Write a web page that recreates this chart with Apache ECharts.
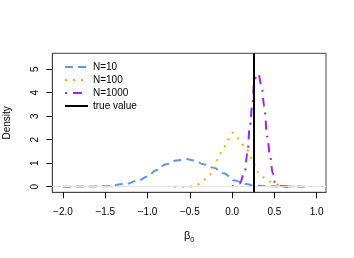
<!DOCTYPE html>
<html><head><meta charset="utf-8">
<script src="https://cdn.jsdelivr.net/npm/echarts@6/dist/echarts.min.js"></script>
<style>html,body{margin:0;padding:0;background:#fff}#c{width:354px;height:258px}</style>
</head><body><div id="c"></div>
<script>
const xTicks = [-2.0, -1.5, -1.0, -0.5, 0.0, 0.5, 1.0];
const yTicks = [0, 1, 2, 3, 4, 5];
const trueValue = 0.25;
const n10X = [-2.0,-1.75,-1.5,-1.25,-1.1,-1.0,-0.9,-0.78,-0.66,-0.55,-0.44,-0.34,-0.22,-0.1,0.03,0.17,0.25,0.4,0.6,0.9];
const n10Y = [0,0.003,0.02,0.12,0.28,0.43,0.7,0.95,1.11,1.18,1.11,0.95,0.81,0.57,0.26,0.11,0.05,0.02,0.005,0];
const n100X = [-0.69,-0.59,-0.5,-0.4,-0.33,-0.26,-0.21,-0.17,-0.13,-0.08,-0.04,0.01,0.07,0.14,0.18,0.23,0.28,0.31,0.39,0.48,0.57,0.67,0.76];
const n100Y = [0,0,0.01,0.1,0.3,0.52,0.82,1.15,1.45,1.73,2.03,2.3,2.06,1.76,1.56,1.21,0.88,0.61,0.37,0.17,0.06,0.01,0];
const n1000X = [0.0,0.09,0.15,0.18,0.21,0.24,0.26,0.29,0.31,0.35,0.38,0.415,0.45,0.48,0.51,0.565,0.66];
const n1000Y = [0,0.14,0.64,1.42,2.56,3.55,4.4,4.76,4.8,4.26,3.41,2.13,1.28,0.57,0.14,0.03,0];
const legendNames = ['N=10', 'N=100', 'N=1000', 'true value'];

const zip = (xs, ys) => xs.map((x, i) => [x, ys[i]]);
const FONT = 'Liberation Sans, Arial, Helvetica, sans-serif';
const chart = echarts.init(document.getElementById('c'), null, {renderer: 'canvas'});
chart.setOption({
  animation: false,
  textStyle: {fontFamily: FONT, color: '#000'},
  grid: {left: 52.3, top: 53.3, right: 28, bottom: 65.7, show: true, borderColor: '#444', borderWidth: 1,
         containLabel: false, outerBoundsMode: 'none'},
  legend: {
    data: legendNames, left: 59, top: 57, orient: 'vertical',
    itemWidth: 23, itemHeight: 12, itemGap: 3,
    itemStyle: {opacity: 0},
    textStyle: {fontSize: 10, fontFamily: FONT, color: '#000', padding: [0,0,0,0]}
  },
  xAxis: {
    type: 'value', min: -2.126, max: 1.11,
    name: '{b|β}{s|0}', nameLocation: 'middle', nameGap: 36,
    nameTextStyle: {rich: {b: {fontSize: 11, fontFamily: FONT}, s: {fontSize: 7, fontFamily: FONT, padding: [8,0,0,0]}}},
    axisLine: {show: true, onZero: false, lineStyle: {color: '#444', width: 1}}, splitLine: {show: false},
    axisTick: {show: true, length: 6, lineStyle: {color: '#000'}, customValues: xTicks},
    axisLabel: {fontSize: 10, color: '#000', margin: 15, customValues: xTicks,
      formatter: v => (v < 0 ? '\u2212' : '') + Math.abs(v).toFixed(1)}
  },
  yAxis: {
    type: 'value', min: -0.24, max: 5.68, position: 'left',
    name: 'Density', nameLocation: 'middle', nameGap: 40, nameRotate: 90,
    nameTextStyle: {fontSize: 10, color: '#000'},
    axisLine: {show: true, onZero: false, lineStyle: {color: '#444', width: 1}}, splitLine: {show: false},
    axisTick: {show: true, inside: false, length: 6, lineStyle: {color: '#000', width: 1}, customValues: yTicks},
    axisLabel: {fontSize: 10, color: '#000', margin: 12, rotate: 90, customValues: yTicks}
  },
  series: [
    {name: 'base', type: 'line', data: [], silent: true, z: 1,
     markLine: {silent: true, symbol: 'none', label: {show: false},
       lineStyle: {color: '#e3e3e3', width: 1, type: 'solid'}, data: [{yAxis: 0}]}},
    {name: 'N=10', type: 'line', data: zip(n10X, n10Y), symbol: 'none', smooth: 0.4, smoothMonotone: 'x',
     itemStyle: {color: '#6495ED'}, lineStyle: {color: '#6495ED', width: 2, type: [8, 5]}},
    {name: 'N=100', type: 'line', data: zip(n100X, n100Y), symbol: 'none', smooth: 0.4, smoothMonotone: 'x',
     itemStyle: {color: '#FFA500'}, lineStyle: {color: '#FFA500', width: 2, type: [2, 6]}},
    {name: 'N=1000', type: 'line', data: zip(n1000X, n1000Y), symbol: 'none', smooth: 0.4, smoothMonotone: 'x',
     itemStyle: {color: '#A020F0'}, lineStyle: {color: '#A020F0', width: 2, type: [2, 6, 9, 6]}},
    {name: 'true value', type: 'line', data: [], symbol: 'none',
     itemStyle: {color: '#000'}, lineStyle: {color: '#000', width: 2},
     markLine: {silent: true, symbol: 'none', label: {show: false},
       lineStyle: {color: '#000', width: 2, type: 'solid'}, data: [{xAxis: trueValue}]}}
  ]
});
</script></body></html>
